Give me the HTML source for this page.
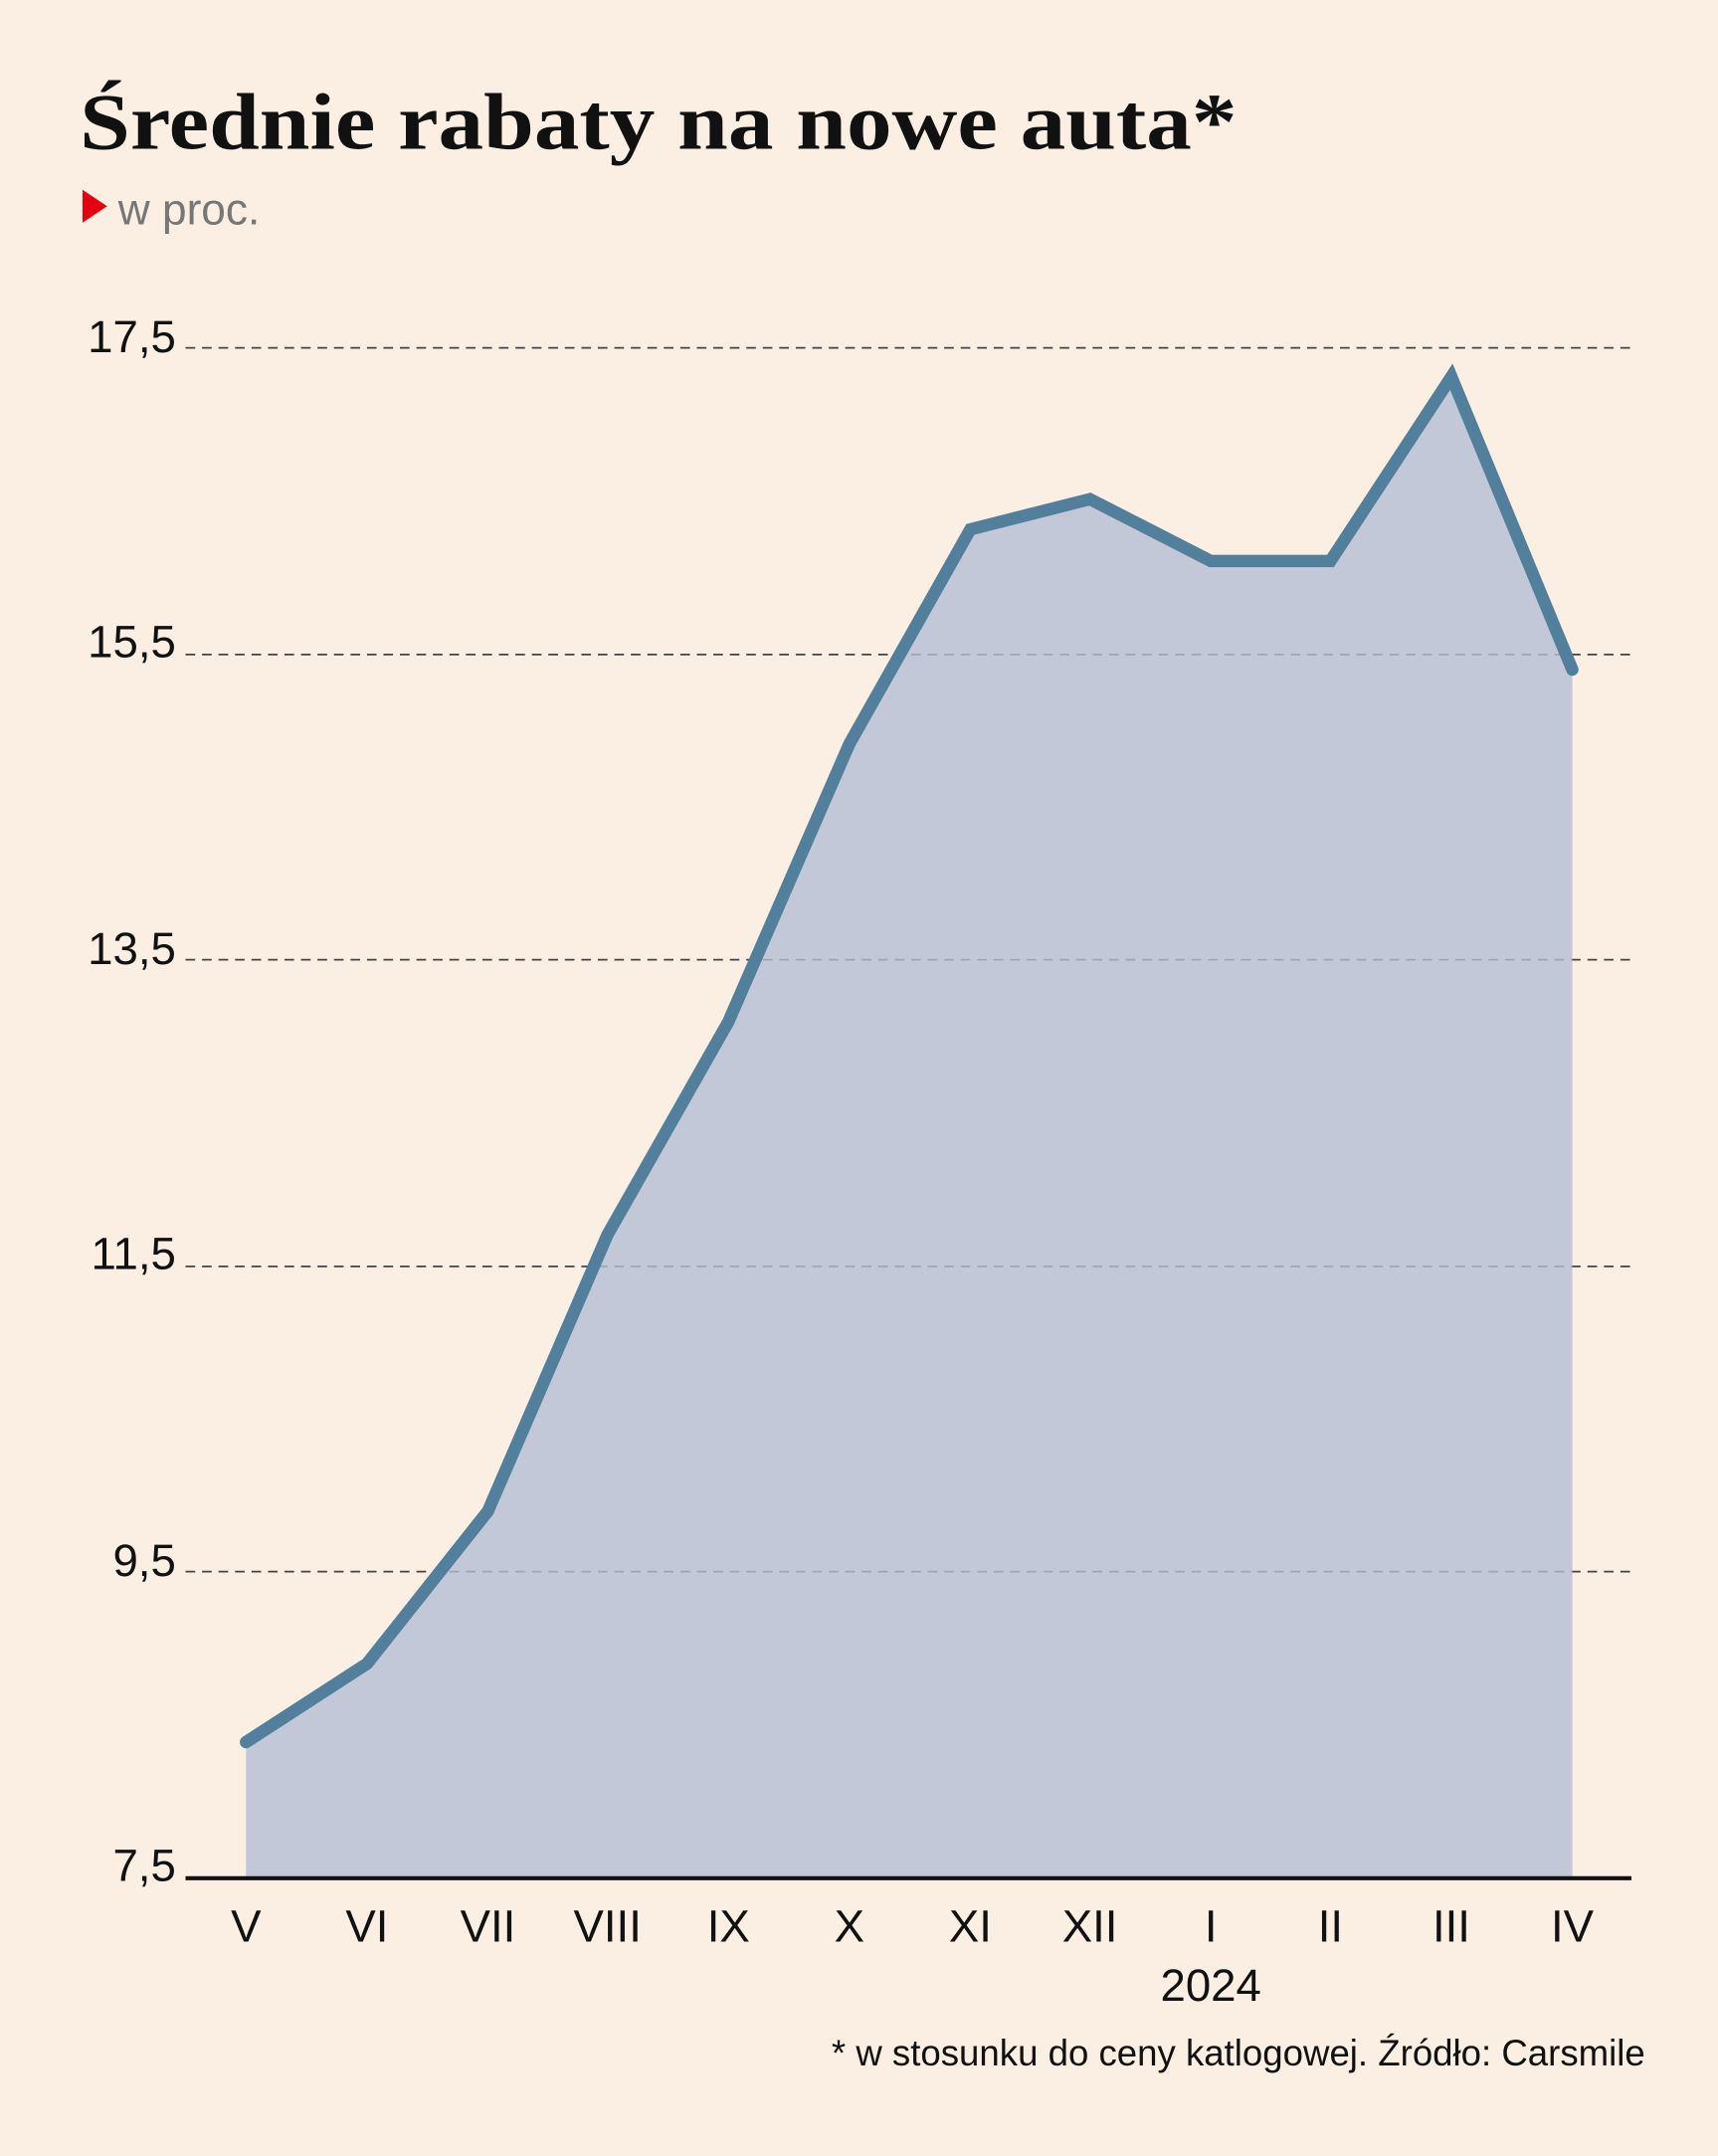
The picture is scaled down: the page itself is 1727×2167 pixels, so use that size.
<!DOCTYPE html>
<html><head><meta charset="utf-8"><style>
html,body{margin:0;padding:0;background:#fbeee2;}
svg{display:block;}
</style></head><body>
<svg width="1727" height="2167" viewBox="0 0 1250 1568" preserveAspectRatio="none" xmlns="http://www.w3.org/2000/svg">
<rect width="1250" height="1568" fill="#fbeee2"/>
<text x="58" y="108" font-family="Liberation Serif, serif" font-weight="bold" font-size="58" fill="#111" textLength="842" lengthAdjust="spacingAndGlyphs">Średnie rabaty na nowe auta*</text>
<polygon points="60,138 78,150 60,162" fill="#e3000f"/>
<text x="86" y="163" font-family="Liberation Sans, sans-serif" font-size="32" fill="#777">w proc.</text>
<g stroke="#444" stroke-width="1.3" stroke-dasharray="7,5">
<line x1="135" y1="253" x2="1187" y2="253"/>
<line x1="135" y1="476" x2="1187" y2="476"/>
<line x1="135" y1="698" x2="1187" y2="698"/>
<line x1="135" y1="921" x2="1187" y2="921"/>
<line x1="135" y1="1143" x2="1187" y2="1143"/>
</g>
<polygon points="179,1366 179,1267 267,1210 355,1099 442,898 530,743 618,541 706,385 793,363 881,408 968,408 1056,274 1144,487 1144,1366" fill="#b4bed4" fill-opacity="0.8"/>
<polyline points="179,1267 267,1210 355,1099 442,898 530,743 618,541 706,385 793,363 881,408 968,408 1056,274 1144,487" fill="none" stroke="#527f9b" stroke-width="9" stroke-linejoin="miter" stroke-linecap="round"/>
<line x1="135" y1="1366" x2="1187" y2="1366" stroke="#111" stroke-width="3"/>
<g font-family="Liberation Sans, sans-serif" font-size="33" fill="#111" text-anchor="end">
<text x="128" y="256">17,5</text>
<text x="128" y="478">15,5</text>
<text x="128" y="701">13,5</text>
<text x="128" y="923">11,5</text>
<text x="128" y="1146">9,5</text>
<text x="128" y="1368">7,5</text>
</g>
<g font-family="Liberation Sans, sans-serif" font-size="33" fill="#111" text-anchor="middle">
<text x="179" y="1412">V</text>
<text x="267" y="1412">VI</text>
<text x="355" y="1412">VII</text>
<text x="442" y="1412">VIII</text>
<text x="530" y="1412">IX</text>
<text x="618" y="1412">X</text>
<text x="706" y="1412">XI</text>
<text x="793" y="1412">XII</text>
<text x="881" y="1412">I</text>
<text x="968" y="1412">II</text>
<text x="1056" y="1412">III</text>
<text x="1144" y="1412">IV</text>
<text x="881" y="1455">2024</text>
</g>
<text x="1197" y="1502" font-family="Liberation Sans, sans-serif" font-size="26.5" fill="#111" text-anchor="end">* w stosunku do ceny katlogowej. Źródło: Carsmile</text>
</svg>
</body></html>
